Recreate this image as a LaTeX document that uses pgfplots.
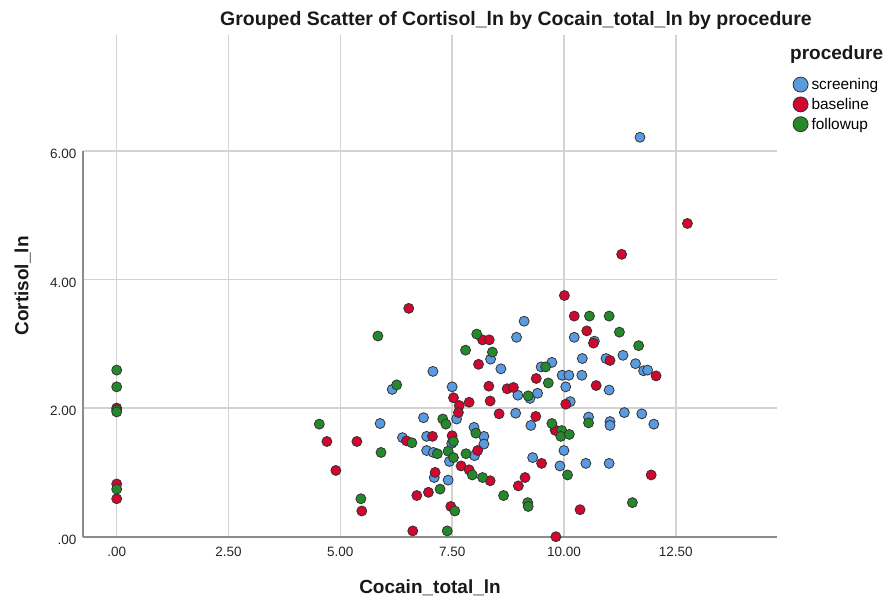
\documentclass[border=0pt]{standalone}
\usepackage{fontspec}
\setmainfont{Liberation Sans}
\usepackage{pgfplots}
\pgfplotsset{compat=1.18}

\definecolor{screen}{HTML}{5A9AE0}
\definecolor{base}{HTML}{D2062F}
\definecolor{follow}{HTML}{25882A}
\definecolor{gridc}{HTML}{D3D3D3}
\definecolor{axisc}{HTML}{8C8C8C}

\begin{document}
\begin{tikzpicture}[x=1pt,y=1pt]
\path[use as bounding box] (0,0) rectangle (884,598);

% chart title and legend heading
\node[anchor=base, font=\bfseries\fontsize{19.5}{22}\selectfont, text=black!90] at (516,572.5)
  {Grouped Scatter of Cortisol\_ln by Cocain\_total\_ln by procedure};
\node[anchor=base west, font=\bfseries\fontsize{19}{22}\selectfont, text=black!90] at (786.7,538.7) {procedure};

\begin{axis}[
  at={(82.7pt,61.3pt)}, anchor=south west,
  scale only axis, width=694.6pt, height=501.7pt,
  xmin=-0.76, xmax=14.77, ymin=0, ymax=7.80,
  axis line style={draw=none},
  xtick={0,2.5,5,7.5,10,12.5},
  xticklabels={.00,2.50,5.00,7.50,10.00,12.50},
  ytick={0,2,4,6},
  yticklabels={.00,2.00,4.00,6.00},
  major tick length=0pt,
  grid=major,
  major grid style={draw=gridc, line width=1.6pt},
  tick label style={font=\fontsize{13.5}{16}\selectfont, text=black!85},
  xticklabel style={inner sep=0pt, yshift=-10.5pt},
  yticklabel style={inner sep=0pt, xshift=-6pt, yshift=-3pt},
  clip=false,
  legend style={at={(axis description cs:1.0219,0.9173)}, anchor=north west,
    draw=none, fill=none, inner sep=0pt, row sep=4pt, column sep=3pt,
    font=\fontsize{15.4}{18}\selectfont, nodes={inner sep=0pt}},
  legend cell align=left,
  legend image code/.code={\draw[#1, line width=0.8pt] (7.5pt,0pt) circle (7.5pt);},
]
% axis lines: x along the full width, y only up to 6
\draw[axisc, line width=1.6pt] (axis cs:-0.76,0) -- (axis cs:14.77,0);
\draw[axisc, line width=1.6pt] (axis cs:-0.76,0) -- (axis cs:-0.76,6);

\addplot[only marks, mark=*, mark size=5pt, draw=black!80, fill=screen, line width=0.8pt]
table[row sep=\\] {
x y\\
11.70 6.21\\ 7.07 2.57\\ 6.16 2.29\\ 7.50 2.33\\ 8.36 2.76\\ 9.11 3.35\\
8.94 3.10\\ 10.23 3.10\\ 10.68 3.04\\ 8.59 2.61\\ 9.49 2.64\\ 9.73 2.71\\
10.41 2.77\\ 10.94 2.77\\ 11.32 2.82\\ 11.60 2.69\\ 11.78 2.58\\ 11.87 2.59\\
9.96 2.51\\ 10.11 2.51\\ 10.40 2.51\\ 11.01 2.28\\ 10.04 2.33\\ 8.97 2.20\\
9.24 2.15\\ 9.41 2.23\\ 10.14 2.10\\ 8.92 1.92\\ 9.26 1.73\\ 9.80 1.66\\
10.55 1.86\\ 11.03 1.79\\ 11.03 1.73\\ 11.35 1.93\\ 11.74 1.91\\ 12.01 1.75\\
8.21 1.56\\ 8.21 1.44\\ 10.00 1.34\\ 9.30 1.23\\ 9.91 1.10\\ 10.49 1.14\\
11.01 1.14\\ 5.89 1.76\\ 6.39 1.54\\ 6.86 1.85\\ 6.93 1.56\\ 6.93 1.34\\
7.08 1.31\\ 7.10 0.92\\ 7.41 0.88\\ 7.60 1.83\\ 7.49 1.45\\ 7.44 1.17\\
8.00 1.26\\ 7.99 1.70\\
};
\addlegendentry{screening}

\addplot[only marks, mark=*, mark size=5pt, draw=black!80, fill=base, line width=0.8pt]
table[row sep=\\] {
x y\\
0 2.00\\ 0 0.82\\ 0 0.59\\ 12.76 4.87\\ 11.29 4.39\\ 6.53 3.55\\
7.53 2.16\\ 7.66 2.04\\ 7.88 2.09\\ 8.18 3.06\\ 8.33 3.06\\ 8.09 2.68\\
8.32 2.34\\ 8.35 2.11\\ 10.01 3.75\\ 10.23 3.43\\ 10.51 3.20\\ 10.66 3.01\\
11.03 2.74\\ 12.06 2.50\\ 9.38 2.46\\ 10.72 2.35\\ 8.73 2.30\\ 8.87 2.32\\
10.04 2.06\\ 8.55 1.91\\ 9.37 1.87\\ 9.82 1.65\\ 9.50 1.14\\ 11.95 0.96\\
8.35 0.87\\ 9.13 0.92\\ 8.98 0.79\\ 10.36 0.42\\ 9.82 0.00\\ 4.70 1.48\\
5.37 1.48\\ 4.90 1.03\\ 5.48 0.40\\ 6.62 0.09\\ 6.48 1.49\\ 7.06 1.56\\
7.12 1.00\\ 6.71 0.64\\ 6.97 0.69\\ 7.47 0.47\\ 7.64 1.93\\ 7.50 1.57\\
7.70 1.10\\ 7.88 1.04\\ 8.07 1.34\\
};
\addlegendentry{baseline}

\addplot[only marks, mark=*, mark size=5pt, draw=black!80, fill=follow, line width=0.8pt]
table[row sep=\\] {
x y\\
0 2.59\\ 0 2.33\\ 0 1.97\\ 0 1.94\\ 0 0.74\\ 5.84 3.12\\
6.26 2.36\\ 8.05 3.15\\ 7.80 2.90\\ 10.57 3.43\\ 11.01 3.43\\ 11.24 3.18\\
11.67 2.97\\ 8.40 2.87\\ 9.59 2.64\\ 9.65 2.39\\ 9.20 2.19\\ 9.73 1.76\\
9.95 1.65\\ 9.93 1.56\\ 10.12 1.59\\ 10.55 1.77\\ 10.08 0.96\\ 8.18 0.92\\
8.65 0.64\\ 9.19 0.53\\ 9.20 0.47\\ 11.53 0.53\\ 4.53 1.75\\ 5.91 1.31\\
5.46 0.59\\ 7.39 0.09\\ 6.60 1.46\\ 7.17 1.29\\ 7.23 0.74\\ 7.56 0.40\\
7.29 1.83\\ 7.36 1.75\\ 7.53 1.48\\ 7.41 1.33\\ 7.53 1.23\\ 7.95 0.96\\
7.81 1.29\\ 8.03 1.61\\
};
\addlegendentry{followup}
\end{axis}

% axis titles
\node[anchor=base, font=\bfseries\fontsize{19}{22}\selectfont, text=black!90] at (430,4.7) {Cocain\_total\_ln};
\node[anchor=base, rotate=90, font=\bfseries\fontsize{19}{22}\selectfont, text=black!90] at (28.3,312) {Cortisol\_ln};
\end{tikzpicture}
\end{document}
